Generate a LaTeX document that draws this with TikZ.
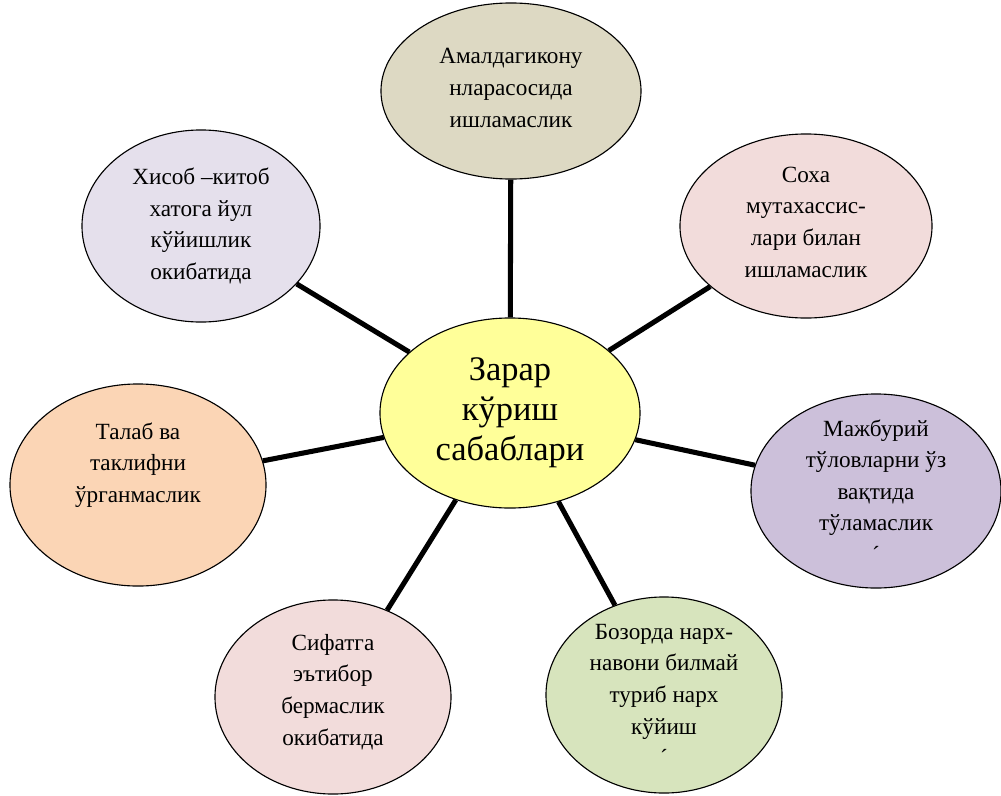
\documentclass[tikz,border=0pt]{standalone}
\usepackage{fontspec}
\setmainfont{Liberation Serif}
\usepackage{tikz}
\usetikzlibrary{shapes.geometric}

\definecolor{tancol}{HTML}{DDD9C3}
\definecolor{rosecol}{HTML}{F2DCDB}
\definecolor{lilaccol}{HTML}{CCC0DA}
\definecolor{olivecol}{HTML}{D7E4BD}
\definecolor{peachcol}{HTML}{FBD5B5}
\definecolor{lavcol}{HTML}{E5E0EC}
\definecolor{suncol}{HTML}{FFFF99}

\begin{document}
\begin{tikzpicture}[x = 0.025cm, y = -0.025cm,
	bubble/.style = {ellipse, draw, line width = 0.8pt, inner sep = 0pt},
	txt/.style = {align = center, font = \fontsize{16.5}{22.5}\selectfont},
	spoke/.style = {line width = 3.6pt}]
\useasboundingbox (0,0) rectangle (1001,796);

% the centre
\node [bubble, fill = suncol, minimum width = 6.5cm, minimum height = 4.75cm]
	(centre) at (510,413) {};
\node [align = center, font = \fontsize{24.5}{28.5}\selectfont]
	(centreText) at (centre) {Зарар\\кўриш\\сабаблари};

% the reasons, clockwise from the top
\node [bubble, fill = tancol, minimum width = 6.5cm, minimum height = 4.4cm]
	(top) at (511,91) {};
\node [txt] (topText) at (511,88) {Амалдагикону\\нларасосида\\ишламаслик};

\node [bubble, fill = rosecol, minimum width = 6.3cm, minimum height = 4.6cm]
	(upRight) at (806,226) {};
\node [txt] (upRightText) at (806,222)
	{Соха\\мутахассис-\\лари билан\\ишламаслик};

\node [bubble, fill = lilaccol, minimum width = 6.25cm, minimum height = 4.85cm]
	(right) at (876,491) {};
\node [txt] (rightText) at (right)
	{Мажбурий\\тўловларни ўз\\вақтида\\тўламаслик\\ˊ};

\node [bubble, fill = olivecol, minimum width = 5.9cm, minimum height = 4.9cm]
	(downRight) at (664,695) {};
\node [txt] (downRightText) at (downRight)
	{Бозорда нарх-\\навони билмай\\туриб нарх\\кўйиш\\ˊ};

\node [bubble, fill = rosecol, minimum width = 5.9cm, minimum height = 4.85cm]
	(downLeft) at (333,697) {};
\node [txt] (downLeftText) at (333,692)
	{Сифатга\\эътибор\\бермаслик\\окибатида};

\node [bubble, fill = peachcol, minimum width = 6.4cm, minimum height = 5.05cm]
	(left) at (138,485) {};
\node [txt] (leftText) at (138,465) {Талаб ва\\таклифни\\ўрганмаслик};

\node [bubble, fill = lavcol, minimum width = 5.95cm, minimum height = 4.8cm]
	(upLeft) at (201,226) {};
\node [txt] (upLeftText) at (upLeft)
	{Хисоб –китоб\\хатога йул\\кўйишлик\\окибатида};

\foreach \n in {top, upRight, right, downRight, downLeft, left, upLeft}
	\draw [spoke] (centre) -- (\n);
\end{tikzpicture}
\end{document}
